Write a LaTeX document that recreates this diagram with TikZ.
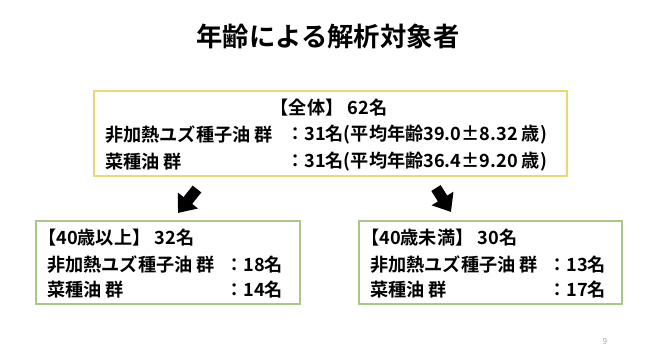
\documentclass[tikz,border=0pt]{standalone}
\usepackage{fontspec}
\setmainfont{Noto Sans CJK JP}[BoldFont={Noto Sans CJK JP Bold}]
\usetikzlibrary{arrows.meta}
\definecolor{boxyellow}{RGB}{234,216,112}
\definecolor{boxgreen}{RGB}{168,200,138}
\begin{document}
\begin{tikzpicture}[x=0.03cm, y=-0.03cm, >=Triangle,
    every node/.style={font=\fontsize{15.5}{18}\selectfont\bfseries, inner sep=0pt},
    txt/.style={anchor=west},
    allbox/.style={draw=boxyellow, line width=1.6pt},
    agebox/.style={draw=boxgreen, line width=1.3pt},
    blockarrow/.style={line width=9.4pt, -{Triangle[length=13.6pt, width=21pt]}}]
  \useasboundingbox (0, 0) rectangle (658, 354);
  \node[font=\fontsize{22.5}{26}\selectfont\bfseries] (title) at (328, 36) {年齢による解析対象者};
  % overall box
  \draw[allbox] (94, 91) rectangle (567, 176);
  \node (allhead) at (329, 108) {【全体】 62名};
  \node[txt] (allyuzu) at (105, 135) {非加熱ユズ種子油 群};
  \node[txt] (allyuzuv) at (286, 135) {：31名(平均年齢39.0±8.32 歳)};
  \node[txt] (allrape) at (105, 162) {菜種油 群};
  \node[txt] (allrapev) at (286, 162) {：31名(平均年齢36.4±9.20 歳)};
  % arrows
  \coordinate (la0) at (197, 189);
  \coordinate (la1) at (178, 213);
  \coordinate (ra0) at (436, 188);
  \coordinate (ra1) at (451, 212);
  \draw[blockarrow] (la0) -- (la1);
  \draw[blockarrow] (ra0) -- (ra1);
  % 40 and over
  \draw[agebox] (36, 221) rectangle (300, 304);
  \node[txt] (olderhead) at (38, 238) {【40歳以上】 32名};
  \node[txt] (olderyuzu) at (47, 265) {非加熱ユズ種子油 群};
  \node[txt] (olderyuzuv) at (225, 265) {：18名};
  \node[txt] (olderrape) at (47, 290) {菜種油 群};
  \node[txt] (olderrapev) at (225, 290) {：14名};
  % under 40
  \draw[agebox] (359, 221) rectangle (622, 304);
  \node[txt] (youngerhead) at (361, 238) {【40歳未満】 30名};
  \node[txt] (youngeryuzu) at (370, 265) {非加熱ユズ種子油 群};
  \node[txt] (youngeryuzuv) at (548, 265) {：13名};
  \node[txt] (youngerrape) at (370, 290) {菜種油 群};
  \node[txt] (youngerrapev) at (548, 290) {：17名};
  \node[font=\fontsize{7}{8}\selectfont, text=gray!70] (page) at (605, 342) {9};
\end{tikzpicture}
\end{document}
